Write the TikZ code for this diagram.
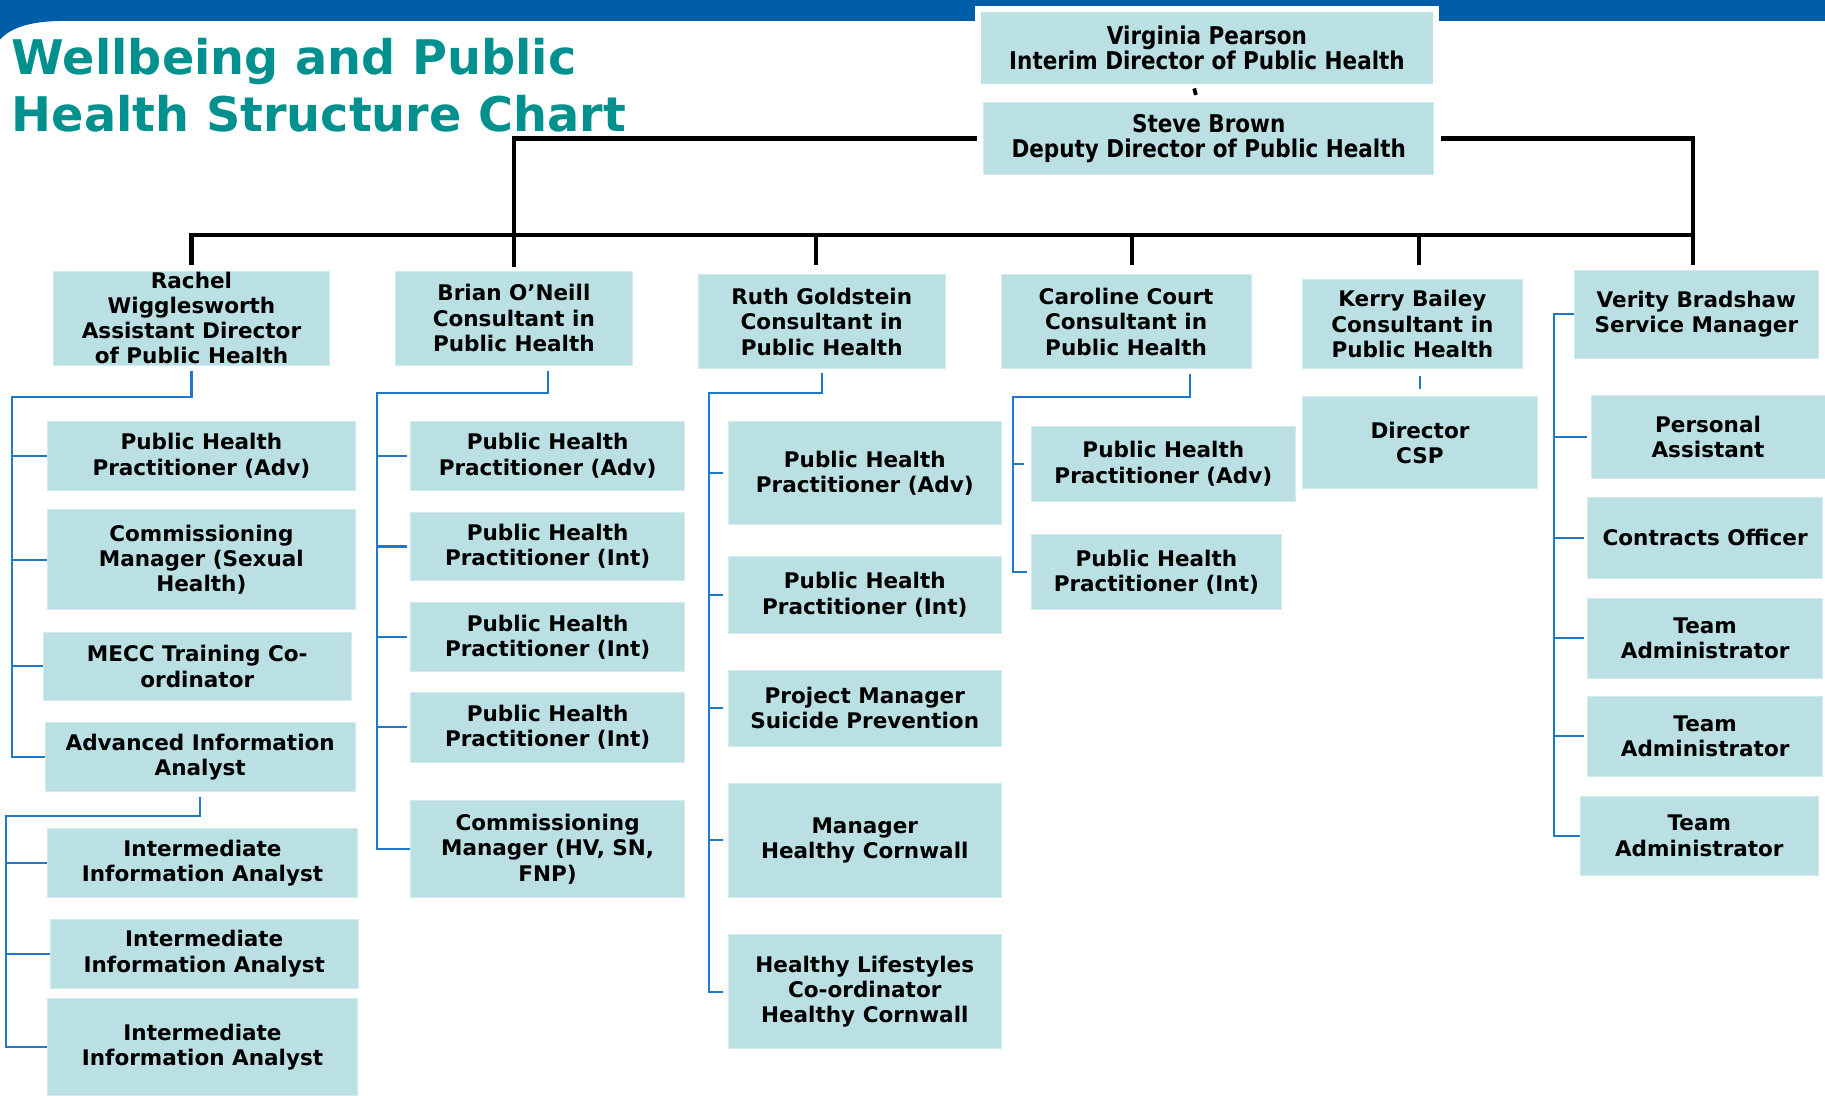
\documentclass[tikz,border=0pt]{standalone}
\usepackage{fontspec}
\setmainfont{DejaVu Sans}
\newfontfamily\condfont[FakeStretch=0.88]{DejaVu Sans}
\definecolor{band}{HTML}{005EA8}
\definecolor{boxfill}{HTML}{BBE0E3}
\definecolor{boxedge}{HTML}{D2ECEE}
\definecolor{teal}{HTML}{00918F}
\definecolor{bline}{HTML}{1F78C8}
\newcommand\obox[7][]{\node[box,#1,minimum width={(#5-#3)*1pt},minimum height={(#6-#4)*1pt}] (#2) at ({(#3+#5)/2},{(#4+#6)/2}) {#7};}
\begin{document}
\begin{tikzpicture}[x=1pt,y=-1pt,
  box/.style={rectangle,fill=boxfill,draw=boxedge,line width=0.8pt,inner sep=0pt,align=center,
    font=\bfseries\fontsize{18.5}{21.8}\selectfont},
  topbox/.style={font=\condfont\bfseries\fontsize{21}{22}\selectfont},
  bl/.style={draw=bline,line width=1.8pt},
  blk/.style={draw=black,line width=3.6pt},
  titletext/.style={anchor=base west,inner sep=0pt,text=teal,font=\bfseries\fontsize{41}{49}\selectfont}]
\useasboundingbox (0,0) rectangle (1568,941);
\fill[white] (0,0) rectangle (1568,941);
% banner
\fill[band] (0,0) rectangle (1568,18);
\fill[band] (0,18) -- (0,34) .. controls (10,23) and (28,18) .. (55,18) -- cycle;
% title
\node[titletext] (t1) at (10,64) {Wellbeing and Public};
\node[titletext] (t2) at (10,113) {Health Structure Chart};
% top boxes
\obox[topbox,draw=white,line width=5pt]{virginia}{840.5}{7.5}{1233.5}{74.5}{Virginia Pearson\\Interim Director of Public Health}
\obox[topbox]{steve}{845}{88}{1232}{150}{Steve Brown\\Deputy Director of Public Health}
% level 2
\obox[font=\bfseries\fontsize{18.5}{21.5}\selectfont]{rachel}{46}{233}{283}{314}{Rachel\\Wigglesworth\\Assistant Director\\of Public Health}
\obox{brian}{340}{233}{543}{314}{Brian O’Neill\\Consultant in\\Public Health}
\obox{ruth}{600}{236}{812}{317}{Ruth Goldstein\\Consultant in\\Public Health}
\obox{caroline}{860}{236}{1075}{317}{Caroline Court\\Consultant in\\Public Health}
\obox{kerry}{1119}{240}{1308}{317}{Kerry Bailey\\Consultant in\\Public Health}
\obox{verity}{1353}{232}{1562}{308}{Verity Bradshaw\\Service Manager}
% column 1
\obox{a1}{41}{362}{305}{421}{Public Health\\Practitioner (Adv)}
\obox{a2}{41}{438}{305}{524}{Commissioning\\Manager (Sexual\\Health)}
\obox{a3}{37}{543}{302}{602}{MECC Training Co-\\ordinator}
\obox{a4}{39}{621}{305}{680}{Advanced Information\\Analyst}
\obox{a5}{41}{712}{307}{771}{Intermediate\\Information Analyst}
\obox{a6}{43}{790}{308}{849}{Intermediate\\Information Analyst}
\obox{a7}{41}{858}{307}{941}{Intermediate\\Information Analyst}
% column 2
\obox{b1}{353}{362}{588}{421}{Public Health\\Practitioner (Adv)}
\obox{b2}{353}{440}{588}{499}{Public Health\\Practitioner (Int)}
\obox{b3}{353}{518}{588}{577}{Public Health\\Practitioner (Int)}
\obox{b4}{353}{595}{588}{655}{Public Health\\Practitioner (Int)}
\obox{b5}{353}{688}{588}{771}{Commissioning\\Manager (HV, SN,\\FNP)}
% column 3
\obox{c1}{626}{362}{860}{451}{Public Health\\Practitioner (Adv)}
\obox{c2}{626}{478}{860}{544}{Public Health\\Practitioner (Int)}
\obox{c3}{626}{576}{860}{641}{Project Manager\\Suicide Prevention}
\obox{c4}{626}{673}{860}{771}{Manager\\Healthy Cornwall}
\obox{c5}{626}{803}{860}{901}{Healthy Lifestyles\\Co-ordinator\\Healthy Cornwall}
% column 4
\obox{d1}{886}{366}{1113}{431}{Public Health\\Practitioner (Adv)}
\obox{d2}{886}{459}{1101}{524}{Public Health\\Practitioner (Int)}
% column 5
\obox{dcsp}{1119}{341}{1321}{420}{Director\\CSP}
% column 6
\obox{f1}{1367}{340}{1568}{411}{Personal\\Assistant}
\obox{f2}{1364}{427}{1566}{497}{Contracts Officer}
\obox{f3}{1364}{514}{1566}{583}{Team\\Administrator}
\obox{f4}{1364}{598}{1566}{667}{Team\\Administrator}
\obox{f5}{1358}{684}{1562}{752}{Team\\Administrator}
% black connectors
\coordinate (bar) at (0,202);
\draw[draw=black,line width=3.2pt] ([xshift=-11pt,yshift=1pt]virginia.south) -- ([xshift=-11pt,yshift=6pt]steve.north);
\draw[blk] ([xshift=-5pt]steve.west) -| ([yshift=3pt]brian.north);
\draw[blk] ([xshift=6pt]steve.east) -| ([xshift=-3pt,yshift=4pt]verity.north);
\draw[blk] ([yshift=5pt]rachel.north) |- ([xshift=-3pt]bar -| verity.north);
\draw[blk] ([xshift=-5pt]bar -| ruth.north) -- ([xshift=-5pt,yshift=8pt]ruth.north);
\draw[blk] ([xshift=5pt]bar -| caroline.north) -- ([xshift=5pt,yshift=8pt]caroline.north);
\draw[blk] ([xshift=6pt]bar -| kerry.north) -- ([xshift=6pt,yshift=12pt]kerry.north);
% blue connectors column 1
\coordinate (r1) at (10,341);
\coordinate (r2) at (5,701);
\draw[bl] ([yshift=-4pt]rachel.south) |- (r1) |- (a4.west);
\foreach \n in {a1,a2,a3} \draw[bl] (r1 |- \n.west) -- (\n.west);
\draw[bl] ([yshift=-4pt]a4.south) |- (r2) |- (a7.west);
\foreach \n in {a5,a6} \draw[bl] (r2 |- \n.west) -- (\n.west);
% column 2
\coordinate (r3) at (324,338);
\draw[bl] ([yshift=-4pt]b1.north |- brian.south) |- (r3) |- (b5.west);
\foreach \n in {b1,b2,b3,b4} \draw[bl] (r3 |- \n.west) -- ([xshift=-3pt]\n.west);
% column 3
\coordinate (r4) at (609,338);
\draw[bl] ([yshift=-3pt]ruth.south) |- (r4) |- ([xshift=-4pt]c5.west);
\foreach \n in {c1,c2,c3,c4} \draw[bl] (r4 |- \n.west) -- ([xshift=-4pt]\n.west);
% column 4
\coordinate (r5) at (870,341);
\draw[bl] ([xshift=55pt,yshift=-4pt]caroline.south) |- (r5) |- ([xshift=-3pt]d2.west);
\draw[bl] (r5 |- d1.west) -- ([xshift=-6pt]d1.west);
% column 5
\draw[bl] ([yshift=-6pt]kerry.south -| dcsp.north) -- ([yshift=6pt]dcsp.north);
% column 6
\coordinate (r6) at (1335,0);
\draw[bl] (verity.west) -| (r6 |- f5.west) -- (f5.west);
\foreach \n in {f1,f2,f3,f4} \draw[bl] (r6 |- \n.west) -- ([xshift=-3pt]\n.west);
\end{tikzpicture}
\end{document}
